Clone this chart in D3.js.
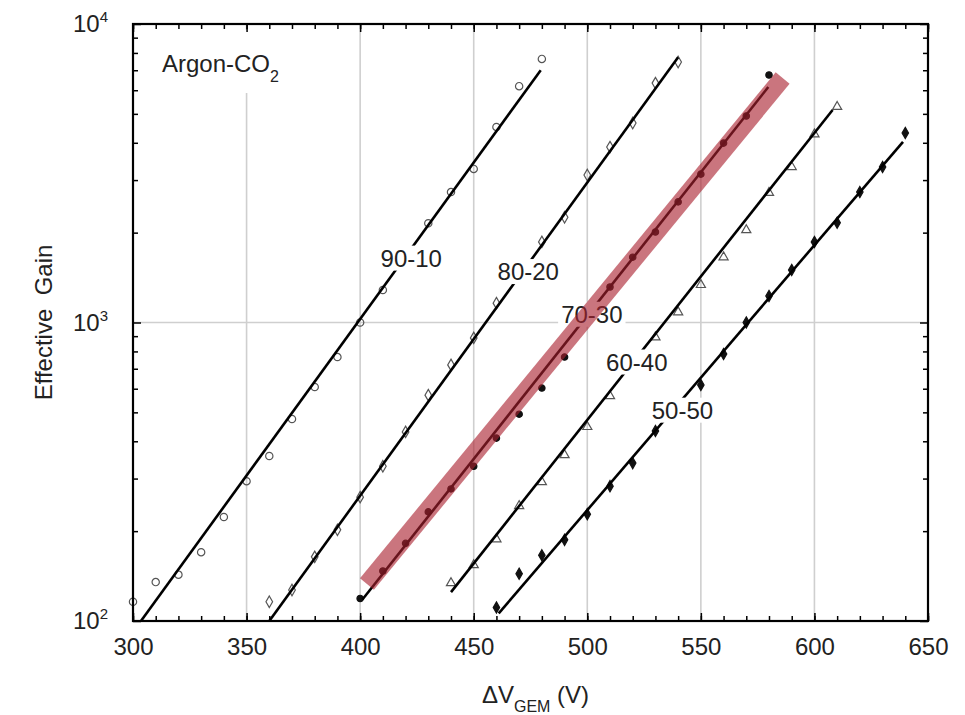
<!DOCTYPE html>
<html>
<head>
<meta charset="utf-8">
<script src="https://cdn.jsdelivr.net/npm/d3@7"></script>
<style>
    body { margin: 0; background: #fff; }
    svg { display: block; font-family: "Liberation Sans", Arial, sans-serif; }
</style>
</head>
<body>
<div id="chart"></div>
<script>
// DATA
const mixtures = ["90-10", "80-20", "70-30", "60-40", "50-50"];

// measured gain per mixture (x = delta V GEM in volts)
const volts9010 = [300, 310, 320, 330, 340, 350, 360, 370, 380, 390, 400, 410, 420, 430, 440, 450, 460, 470, 480];
const gain9010  = [116, 135, 143, 170, 223, 294, 357, 475, 608, 766, 1000, 1285, 1660, 2150, 2735, 3270, 4520, 6190, 7640];

const volts8020 = [360, 370, 380, 390, 400, 410, 420, 430, 440, 450, 460, 470, 480, 490, 500, 510, 520, 530, 540];
const gain8020  = [116, 127, 164, 202, 260, 330, 430, 571, 721, 888, 1161, 1450, 1862, 2253, 3120, 3870, 4660, 6340, 7460];

const volts7030 = [400, 410, 420, 430, 440, 450, 460, 470, 480, 490, 500, 510, 520, 530, 540, 550, 560, 570, 580];
const gain7030  = [119, 147, 182, 232, 277, 330, 410, 493, 603, 766, 1040, 1315, 1655, 2010, 2535, 3140, 3990, 4920, 6750];

const volts6040 = [440, 450, 460, 470, 480, 490, 500, 510, 520, 530, 540, 550, 560, 570, 580, 590, 600, 610];
const gain6040  = [134, 154, 188, 243, 292, 360, 447, 567, 700, 893, 1083, 1337, 1655, 2040, 2720, 3320, 4275, 5280];

const volts5050 = [460, 470, 480, 490, 500, 510, 520, 530, 540, 550, 560, 570, 580, 590, 600, 610, 620, 630, 640];
const gain5050  = [111, 144, 166, 187, 228, 283, 338, 433, 520, 618, 784, 1000, 1227, 1500, 1862, 2160, 2735, 3320, 4315];

// exponential fit lines: [volts, gain] at both ends
const fit9010 = [[303.5, 100], [479.5, 7000]];
const fit8020 = [[360, 100], [540, 7740]];
const fit7030 = [[401, 118], [579.7, 6150]];
const fit6040 = [[440, 125], [608, 5150]];
const fit5050 = [[461, 106], [639, 4030]];

// where the mixture names sit (volts, gain)
const labelVolts = [422.5, 474, 502, 521.8, 541.9];
const labelGain  = [1645, 1483, 1067, 738, 509];

// highlighted band along the 70-30 curve
const bandEnds = [[403, 133], [586, 6590]];

// axis ticks
const xMajor = [300, 350, 400, 450, 500, 550, 600, 650];
const xGridVals = [350, 400, 450, 500, 550, 600];
const yMajor = [100, 1000, 10000];
const yMinor = [200, 300, 400, 500, 600, 700, 800, 900, 2000, 3000, 4000, 5000, 6000, 7000, 8000, 9000];

// CHART
const width = 965;
const height = 715;
const margin = {top: 24, right: 37, bottom: 94, left: 133};

const x = d3.scaleLinear().domain([300, 650]).range([margin.left, width - margin.right]);
const y = d3.scaleLog().domain([100, 10000]).range([height - margin.bottom, margin.top]);

const svg = d3.select("#chart").append("svg")
    .attr("width", width)
    .attr("height", height);

// grid
svg.append("g")
    .selectAll("line")
    .data(xGridVals)
    .join("line")
        .attr("x1", d => x(d)).attr("x2", d => x(d))
        .attr("y1", y(10000)).attr("y2", y(100))
        .attr("stroke", "#cfcfcf").attr("stroke-width", 1.6);
svg.append("line")
    .attr("x1", x(300)).attr("x2", x(650))
    .attr("y1", y(1000)).attr("y2", y(1000))
    .attr("stroke", "#cfcfcf").attr("stroke-width", 1.6);

// gas label box
svg.append("rect")
    .attr("x", 140).attr("y", 30).attr("width", 190).attr("height", 63)
    .attr("fill", "#fff");
const gas = svg.append("text")
    .attr("x", 162).attr("y", 72)
    .attr("font-size", 24).attr("fill", "#222");
gas.append("tspan").text("Argon-CO");
gas.append("tspan").attr("dy", 10).attr("font-size", 16).text("2");

// series
const series = [
    {name: mixtures[0], V: volts9010, G: gain9010, fit: fit9010, sym: d3.symbolCircle, filled: false, size: 42},
    {name: mixtures[1], V: volts8020, G: gain8020, fit: fit8020, sym: d3.symbolDiamond, filled: false, size: 38},
    {name: mixtures[2], V: volts7030, G: gain7030, fit: fit7030, sym: d3.symbolCircle, filled: true, size: 32},
    {name: mixtures[3], V: volts6040, G: gain6040, fit: fit6040, sym: d3.symbolTriangle, filled: false, size: 36},
    {name: mixtures[4], V: volts5050, G: gain5050, fit: fit5050, sym: d3.symbolDiamond, filled: true, size: 36}
];

const line = d3.line()
    .x(d => x(d[0]))
    .y(d => y(d[1]));

series.forEach(s => {
    svg.append("g")
        .selectAll("path")
        .data(s.V.map((v, i) => [v, s.G[i]]))
        .join("path")
            .attr("transform", d => `translate(${x(d[0])},${y(d[1])})`)
            .attr("d", d3.symbol(s.sym, s.size))
            .attr("fill", s.filled ? "#111" : "none")
            .attr("stroke", s.filled ? "#111" : "#555")
            .attr("stroke-width", 1.2);

    svg.append("path")
        .datum(s.fit)
        .attr("d", line)
        .attr("fill", "none")
        .attr("stroke", "#000")
        .attr("stroke-width", 2.6);
});

// mixture labels with white background
mixtures.forEach((m, i) => {
    const g = svg.append("g");
    const t = g.append("text")
        .attr("x", x(labelVolts[i]))
        .attr("y", y(labelGain[i]))
        .attr("dy", "0.36em")
        .attr("text-anchor", "middle")
        .attr("font-size", 24)
        .attr("fill", "#222")
        .text(m);
    const b = t.node().getBBox();
    g.insert("rect", "text")
        .attr("x", b.x - 3).attr("y", b.y + 1)
        .attr("width", b.width + 6).attr("height", b.height - 2)
        .attr("fill", "#fff");
});

// axes
const x0 = y(100), x1 = y(10000);
const tickStyle = g => {
    g.select(".domain").remove();
    g.selectAll(".tick line").attr("stroke", "#000").attr("stroke-width", 1.5);
};

svg.append("g").attr("transform", `translate(0,${x0})`)
    .call(d3.axisBottom(x).tickValues(d3.range(300, 651, 10)).tickSize(-5).tickFormat(""))
    .call(tickStyle);
svg.append("g").attr("transform", `translate(0,${x1})`)
    .call(d3.axisTop(x).tickValues(d3.range(300, 651, 10)).tickSize(-5).tickFormat(""))
    .call(tickStyle);
svg.append("g").attr("transform", `translate(0,${x0})`)
    .call(d3.axisBottom(x).tickValues(xMajor).tickSize(-8).tickPadding(17).tickFormat(d3.format("d")))
    .call(tickStyle)
    .call(g => g.selectAll(".tick text").attr("font-size", 24).attr("font-family", null).attr("fill", "#222"));
svg.append("g").attr("transform", `translate(0,${x1})`)
    .call(d3.axisTop(x).tickValues(xMajor).tickSize(-8).tickFormat(""))
    .call(tickStyle);

svg.append("g").attr("transform", `translate(${x(300)},0)`)
    .call(d3.axisLeft(y).tickValues(yMinor).tickSize(-5).tickFormat(""))
    .call(tickStyle);
svg.append("g").attr("transform", `translate(${x(650)},0)`)
    .call(d3.axisRight(y).tickValues(yMinor).tickSize(-5).tickFormat(""))
    .call(tickStyle);
svg.append("g").attr("transform", `translate(${x(650)},0)`)
    .call(d3.axisRight(y).tickValues(yMajor).tickSize(-8).tickFormat(""))
    .call(tickStyle);
svg.append("g").attr("transform", `translate(${x(300)},0)`)
    .call(d3.axisLeft(y).tickValues(yMajor).tickSize(-8).tickPadding(25).tickFormat(""))
    .call(tickStyle)
    .call(g => g.selectAll(".tick text")
        .attr("font-size", 24).attr("font-family", null).attr("fill", "#222")
        .call(t => t.append("tspan").text("10"))
        .call(t => t.append("tspan").attr("dy", -10).attr("font-size", 15).text(d => Math.round(Math.log10(d)))));

// frame
svg.append("rect")
    .attr("x", x(300)).attr("y", y(10000))
    .attr("width", x(650) - x(300)).attr("height", y(100) - y(10000))
    .attr("fill", "none").attr("stroke", "#000").attr("stroke-width", 2.2);

// axis titles
const xt = svg.append("text")
    .attr("x", (x(300) + x(650)) / 2 + 5).attr("y", 703)
    .attr("text-anchor", "middle")
    .attr("font-size", 24).attr("fill", "#222");
xt.append("tspan").text("\u0394V");
xt.append("tspan").attr("dy", 9).attr("font-size", 16).text("GEM");
xt.append("tspan").attr("dy", -9).text(" (V)");

svg.append("text")
    .attr("transform", `translate(52,${(y(100) + y(10000)) / 2}) rotate(-90)`)
    .attr("text-anchor", "middle")
    .attr("font-size", 24).attr("fill", "#222")
    .text("Effective\u00a0 Gain");

// highlight band
svg.append("path")
    .datum(bandEnds)
    .attr("d", line)
    .attr("fill", "none")
    .attr("stroke", "rgb(170,32,47)")
    .attr("stroke-opacity", 0.62)
    .attr("stroke-width", 18)
    .attr("stroke-linecap", "butt");
</script>
</body>
</html>
